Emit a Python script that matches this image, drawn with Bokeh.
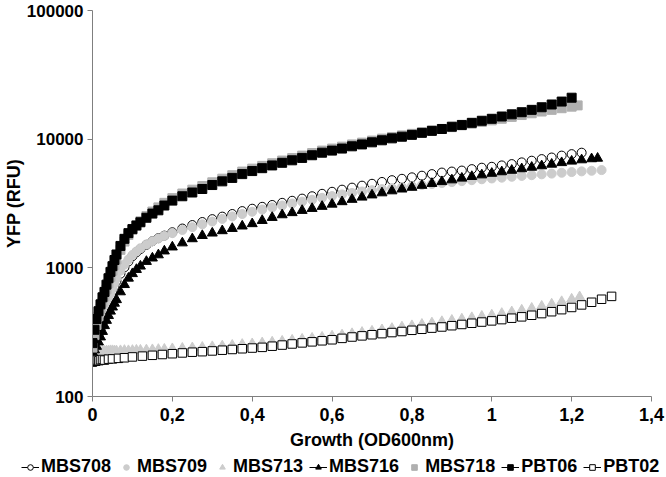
from bokeh.plotting import figure
from bokeh.layouts import column
from bokeh.models import (FixedTicker, NumeralTickFormatter, CustomJSTickFormatter,
                          Legend, LegendItem, Range1d, ColumnDataSource)
from bokeh.embed import file_html
from bokeh.resources import INLINE

# ---------------- data ----------------
x_tick_values = [0, 0.2, 0.4, 0.6, 0.8, 1.0, 1.2, 1.4]
y_tick_values = [100, 1000, 10000, 100000]

series_names = ["MBS708", "MBS709", "MBS713", "MBS716", "MBS718", "PBT06", "PBT02"]

x_early = [0, 0.005, 0.01, 0.015, 0.02, 0.025, 0.03, 0.035, 0.04, 0.045, 0.05, 0.055,
           0.06, 0.07, 0.08, 0.09, 0.1, 0.11, 0.12, 0.135, 0.15, 0.165, 0.18]
x_main = [0.2, 0.225, 0.25, 0.275, 0.3, 0.325, 0.35, 0.375, 0.4, 0.425, 0.45, 0.475,
          0.5, 0.525, 0.55, 0.575, 0.6, 0.625, 0.65, 0.675, 0.7, 0.725, 0.75, 0.775,
          0.8, 0.825, 0.85, 0.875, 0.9, 0.925, 0.95, 0.975, 1.0, 1.025, 1.05, 1.075,
          1.1, 1.125, 1.15, 1.175, 1.2]

mbs708_x = x_early + x_main + [1.225]
mbs708_y = [280, 275, 285, 300, 330, 370, 420, 480, 540, 600, 660, 720,
            790, 900, 1010, 1120, 1230, 1320, 1400, 1510, 1610, 1700, 1780,
            1890, 2020, 2150, 2270, 2390, 2500, 2620, 2760, 2880, 2980, 3080, 3200,
            3320, 3450, 3600, 3760, 3900, 4050, 4200, 4350, 4500, 4650, 4800, 4920,
            5050, 5200, 5350, 5500, 5600, 5700, 5850, 6000, 6100, 6250, 6400, 6600,
            6800, 7000, 7200, 7450, 7650, 7850]

mbs709_x = x_early + x_main + [1.225, 1.25, 1.275]
mbs709_y = [290, 285, 300, 320, 350, 390, 440, 500, 560, 630, 690, 760,
            830, 950, 1060, 1160, 1260, 1340, 1420, 1520, 1610, 1690, 1770,
            1860, 1970, 2070, 2180, 2290, 2400, 2510, 2620, 2730, 2840, 2950, 3050,
            3160, 3270, 3380, 3500, 3610, 3720, 3820, 3920, 4010, 4090, 4160, 4240,
            4320, 4400, 4480, 4560, 4640, 4720, 4800, 4880, 4950, 5020, 5100, 5180,
            5250, 5330, 5400, 5480, 5550, 5620, 5680, 5750]

mbs713_x = x_early + x_main + [1.22]
mbs713_y = [195, 205, 212, 218, 222, 224, 225, 226, 226, 227, 227, 226,
            226, 227, 228, 227, 228, 229, 229, 230, 231, 232, 233,
            235, 237, 239, 241, 244, 247, 250, 254, 257, 261, 265, 269,
            274, 279, 284, 289, 295, 301, 308, 315, 322, 330, 338, 347,
            355, 364, 373, 382, 391, 400, 410, 420, 430, 442, 455, 469,
            485, 503, 523, 546, 571, 595]

mbs716_x = x_early + x_main + [1.225, 1.25, 1.265]
mbs716_y = [220, 230, 245, 265, 290, 320, 355, 390, 425, 460, 495, 530,
            565, 650, 740, 830, 900, 970, 1030, 1120, 1190, 1260, 1350,
            1450, 1560, 1680, 1780, 1860, 1940, 2020, 2110, 2200, 2330, 2460, 2580,
            2680, 2790, 2890, 3000, 3120, 3260, 3400, 3540, 3680, 3820, 3960, 4090,
            4220, 4370, 4520, 4670, 4820, 4970, 5120, 5270, 5420, 5570, 5720, 5880,
            6040, 6200, 6380, 6560, 6740, 6900, 7030, 7100]

mbs718_x = x_early + x_main + [1.215]
mbs718_y = [240, 300, 360, 420, 480, 540, 600, 680, 760, 850, 950, 1050,
            1160, 1380, 1600, 1800, 1980, 2150, 2300, 2520, 2740, 2950, 3200,
            3480, 3780, 4050, 4320, 4620, 4930, 5250, 5600, 5900, 6200, 6500, 6820,
            7130, 7450, 7800, 8150, 8450, 8750, 9100, 9400, 9750, 10100, 10400, 10700,
            11000, 11300, 11700, 12000, 12400, 12800, 13200, 13600, 14000, 14400, 14900, 15400,
            15900, 16400, 16900, 17400, 17900, 18300]

pbt06_x = x_early + x_main
pbt06_y = [260, 330, 400, 460, 520, 590, 650, 740, 830, 930, 1030, 1150,
           1270, 1480, 1680, 1860, 2000, 2130, 2260, 2450, 2640, 2800, 3050,
           3330, 3600, 3850, 4100, 4400, 4700, 5000, 5350, 5650, 5950, 6250, 6550,
           6850, 7150, 7500, 7850, 8150, 8450, 8800, 9100, 9450, 9800, 10150, 10450,
           10800, 11200, 11600, 12000, 12500, 12900, 13400, 13900, 14400, 15000, 15600, 16200,
           16900, 17700, 18600, 19600, 21000]

pbt02_x = [0, 0.004, 0.008, 0.012, 0.016, 0.02, 0.025, 0.03, 0.04, 0.05, 0.065, 0.08,
           0.1, 0.125, 0.15, 0.175, 0.2, 0.225, 0.25, 0.275, 0.3, 0.325, 0.35, 0.375,
           0.4, 0.425, 0.45, 0.475, 0.5, 0.525, 0.55, 0.575, 0.6, 0.625, 0.65, 0.675,
           0.7, 0.725, 0.75, 0.775, 0.8, 0.825, 0.85, 0.875, 0.9, 0.925, 0.95, 0.975,
           1.0, 1.025, 1.05, 1.075, 1.1, 1.125, 1.15, 1.175, 1.2, 1.225, 1.25, 1.275, 1.3]
pbt02_y = [185, 190, 188, 192, 190, 193, 194, 192, 195, 196, 198, 200,
           203, 206, 209, 212, 215, 218, 221, 223, 226, 229, 232, 235,
           238, 241, 246, 251, 256, 261, 266, 271, 276, 283, 290, 296,
           302, 308, 314, 320, 327, 333, 340, 347, 355, 363, 371, 379,
           387, 396, 406, 416, 428, 441, 456, 473, 492, 515, 540, 570, 600]

xs = [mbs708_x, mbs709_x, mbs713_x, mbs716_x, mbs718_x, pbt06_x, pbt02_x]
ys = [mbs708_y, mbs709_y, mbs713_y, mbs716_y, mbs718_y, pbt06_y, pbt02_y]

# ---------------- styles ----------------
markers = ["circle", "circle", "triangle", "triangle", "square", "square", "square"]
fills = ["white", "#cccccc", "#cccccc", "black", "#b0b0b0", "black", "white"]
edges = ["black", "#cccccc", "#cccccc", "black", "#b0b0b0", "black", "black"]
sizes = [9, 9, 10, 10, 9, 9, 8.5]
legend_line = [True, False, False, True, False, True, True]

FONT = "Liberation Sans"

p = figure(width=666, height=452, y_axis_type="log",
           x_range=Range1d(0, 1.4), y_range=Range1d(100, 100000),
           output_backend="svg", toolbar_location=None,
           min_border_left=91, min_border_right=15, min_border_top=10,
           min_border_bottom=55)
p.outline_line_color = None
p.grid.visible = False

# legend-only strip below the chart
lg = figure(width=666, height=25, x_range=Range1d(0, 1), y_range=Range1d(0, 1),
            output_backend="svg", toolbar_location=None,
            x_axis_location=None, y_axis_location=None,
            min_border=0)
lg.outline_line_color = None
lg.grid.visible = False
if "frame_align" in lg.properties():
    lg.frame_align = False
    p.frame_align = False

items = []
for name, x, y, m, fc, lc, s, has_line in zip(series_names, xs, ys, markers, fills,
                                              edges, sizes, legend_line):
    src = ColumnDataSource(data=dict(x=x, y=y))
    p.scatter("x", "y", source=src, marker=m, size=s, fill_color=fc,
              line_color=lc, line_width=1)
    # legend strip: same glyph styles, data lies outside the strip's ranges
    rends = []
    if has_line:
        rends.append(lg.line("x", "y", source=src, line_color="black", line_width=1))
    rends.append(lg.scatter("x", "y", source=src, marker=m, size=s - 1.5, fill_color=fc,
                            line_color=lc, line_width=1))
    items.append(LegendItem(label=name, renderers=rends))

# axes
for ax in (p.xaxis[0], p.yaxis[0]):
    ax.axis_line_color = "#7f7f7f"
    ax.major_tick_line_color = "#7f7f7f"
    ax.major_tick_out = 5
    ax.major_tick_in = 0
    ax.minor_tick_line_color = None
    ax.major_label_text_font = FONT
    ax.major_label_text_font_style = "bold"
    ax.major_label_text_font_size = "18px"
    ax.major_label_text_color = "black"
    ax.axis_label_text_font = FONT
    ax.axis_label_text_font_style = "bold"
    ax.axis_label_text_font_size = "18px"
    ax.axis_label_text_color = "black"

p.xaxis.ticker = FixedTicker(ticks=x_tick_values)
p.xaxis.formatter = CustomJSTickFormatter(
    code="return (Math.round(tick*10)/10).toString().replace('.', ',');")
p.xaxis.axis_label = "Growth (OD600nm)"
p.xaxis.major_label_standoff = 6
p.xaxis.axis_label_standoff = 6

p.yaxis.ticker = FixedTicker(ticks=y_tick_values, minor_ticks=[])
p.yaxis.formatter = NumeralTickFormatter(format="0")
p.yaxis.major_label_text_font_size = "17px"
p.yaxis.axis_label = "YFP (RFU)"
p.yaxis.major_label_standoff = 4
p.yaxis.axis_label_standoff = 0

legend = Legend(items=items, orientation="horizontal", location=(21, 0),
                label_text_font=FONT, label_text_font_style="bold",
                label_text_font_size="18px", label_text_color="black",
                label_standoff=2, glyph_width=18, glyph_height=14, label_height=14,
                spacing=6, padding=0, margin=0,
                border_line_color=None, background_fill_alpha=0)
lg.add_layout(legend, "center")

layout = column(p, lg, spacing=0)
open("out.html", "w").write(file_html(layout, INLINE))
